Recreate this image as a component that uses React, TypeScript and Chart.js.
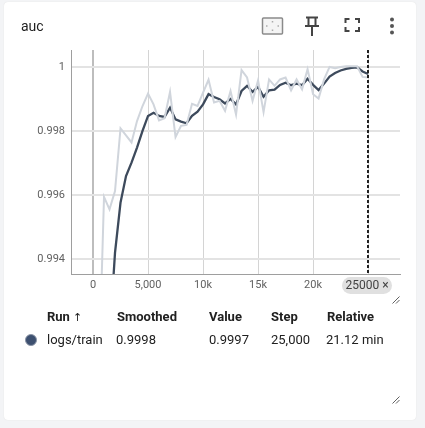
import React, { useEffect, useRef } from "react";
import { Chart, registerables } from "chart.js";

Chart.register(...registerables);

const chartTitle = "auc";
const steps = [500, 1000, 1500, 2000, 2500, 3000, 3500, 4000, 4500, 5000, 5500, 6000, 6500, 7000, 7500, 8000, 8500, 9000, 9500, 10000, 10500, 11000, 11500, 12000, 12500, 13000, 13500, 14000, 14500, 15000, 15500, 16000, 16500, 17000, 17500, 18000, 18500, 19000, 19500, 20000, 20500, 21000, 21500, 22000, 22500, 23000, 23500, 24000, 24500, 25000];
const rawValues = [0.99, 0.99594, 0.99555, 0.99612, 0.99808, 0.99786, 0.99764, 0.99831, 0.99878, 0.99917, 0.99883, 0.99833, 0.9984, 0.99922, 0.99781, 0.99816, 0.99819, 0.99885, 0.99878, 0.9992, 0.9996, 0.99889, 0.99894, 0.99863, 0.99925, 0.99851, 0.9999, 0.99967, 0.99894, 0.99958, 0.99859, 0.99961, 0.99941, 0.99961, 0.99967, 0.99927, 0.99961, 0.9993, 0.99993, 0.99915, 0.99901, 0.99961, 1.0, 0.99996, 1.0, 1.00002, 1.00002, 1.00002, 0.99969, 0.99967];
const smoothedValues = [0.985, 0.988, 0.9915, 0.9942, 0.99576, 0.99659, 0.99701, 0.99748, 0.998, 0.99847, 0.99857, 0.99847, 0.99844, 0.99873, 0.99836, 0.99829, 0.99824, 0.99847, 0.9986, 0.99883, 0.99915, 0.99906, 0.99899, 0.99886, 0.999, 0.99883, 0.99925, 0.99941, 0.99922, 0.99938, 0.99907, 0.99927, 0.99929, 0.99944, 0.99951, 0.99943, 0.99948, 0.99943, 0.99963, 0.99944, 0.99928, 0.99948, 0.9997, 0.99981, 0.99989, 0.99994, 0.99997, 0.99999, 0.99986, 0.99978];
const xTicks = [0, 5000, 10000, 15000, 20000, 25000];
const xTickLabels = ["0", "5,000", "10k", "15k", "20k", ""];
const yTicks = [0.994, 0.996, 0.998, 1];
const yTickLabels = ["0.994", "0.996", "0.998", "1"];
const selectedStep = 25000;
const selectedLabel = "25000 ×";
const tableHeaders = ["Run", "Smoothed", "Value", "Step", "Relative"];
const tableRow = ["logs/train", "0.9998", "0.9997", "25,000", "21.12 min"];
const headerLefts = [47, 117, 209, 271, 327];
const rowLefts = [47, 116, 209, 271, 326];

const FONT = "Roboto, sans-serif";

const stepMarker = {
  id: "stepMarker",
  afterDraw(chart: any) {
    const { ctx, scales, chartArea } = chart;
    const xPx = Math.round(scales.x.getPixelForValue(selectedStep));
    ctx.save();
    ctx.strokeStyle = "#212121";
    ctx.lineWidth = 2;
    ctx.setLineDash([3, 2]);
    ctx.beginPath();
    ctx.moveTo(xPx, chartArea.top);
    ctx.lineTo(xPx, chartArea.bottom);
    ctx.stroke();
    ctx.setLineDash([]);
    ctx.font = "12px " + FONT;
    const w = 50;
    const h = 17;
    const top = chartArea.bottom + 3;
    ctx.fillStyle = "#e0e0e0";
    ctx.beginPath();
    ctx.roundRect(xPx - 26, top, w, h, 8.5);
    ctx.fill();
    ctx.fillStyle = "#424242";
    ctx.textAlign = "center";
    ctx.textBaseline = "middle";
    ctx.fillText(selectedLabel, xPx - 1, top + h / 2 + 0.5);
    ctx.restore();
  },
};

function Handle({ x, y }: { x: number; y: number }) {
  return (
    <svg style={{ position: "absolute", left: x, top: y }} width={8} height={8}>
      <path d="M0.5 7.5 L7.5 0.5 M4 7.5 L7.5 4" stroke="#616161" strokeWidth={1} fill="none" />
    </svg>
  );
}

export default function App() {
  const ref = useRef<HTMLCanvasElement>(null);

  useEffect(() => {
    document.body.style.margin = "0";
    const chart = new Chart(ref.current as HTMLCanvasElement, {
      type: "line",
      data: {
        datasets: [
          {
            label: "raw",
            data: steps.map((s, i) => ({ x: s, y: rawValues[i] })),
            borderColor: "#d0d5dc",
            borderWidth: 2,
            pointRadius: 0,
            tension: 0,
          },
          {
            label: "logs/train",
            data: steps.map((s, i) => ({ x: s, y: smoothedValues[i] })),
            borderColor: "#3d4a5c",
            borderWidth: 2.3,
            pointRadius: 0,
            tension: 0,
          },
        ],
      },
      options: {
        animation: false,
        responsive: false,
        layout: { padding: { left: 0, top: 50, right: 25, bottom: 124 } },
        plugins: { legend: { display: false }, tooltip: { enabled: false } },
        scales: {
          x: {
            type: "linear",
            min: -2000,
            max: 27900,
            afterBuildTicks(axis: any) {
              axis.ticks = xTicks.map((value) => ({ value }));
            },
            afterFit(axis: any) {
              axis.height = 30;
            },
            grid: {
              color: (c: any) => (c.tick && c.tick.value === 0 ? "#bdbdbd" : "#d4d4d4"),
              lineWidth: (c: any) => (c.tick && c.tick.value === 0 ? 2 : 1),
              drawTicks: false,
            },
            border: { color: "#9e9e9e", width: 1 },
            ticks: {
              autoSkip: false,
              maxRotation: 0,
              padding: 5,
              color: "#616161",
              font: { family: FONT, size: 11 },
              callback: (v: any) => xTickLabels[xTicks.indexOf(Number(v))] ?? "",
            },
          },
          y: {
            type: "linear",
            min: 0.99353,
            max: 1.00053,
            afterBuildTicks(axis: any) {
              axis.ticks = yTicks.map((value) => ({ value }));
            },
            afterFit(axis: any) {
              axis.width = 71;
            },
            grid: { color: "#e3e3e3", lineWidth: 2, drawTicks: false },
            border: { color: "#9e9e9e", width: 1 },
            ticks: {
              autoSkip: false,
              padding: 6,
              color: "#616161",
              font: { family: FONT, size: 11 },
              callback: (v: any) => yTickLabels[yTicks.indexOf(Number(v))] ?? "",
            },
          },
        },
      },
      plugins: [stepMarker],
    } as any);
    return () => chart.destroy();
  }, []);

  const textBase: React.CSSProperties = {
    position: "absolute",
    fontFamily: FONT,
    fontSize: 13,
    lineHeight: "16px",
    color: "#212121",
    whiteSpace: "nowrap",
  };

  return (
    <div style={{ position: "absolute", left: 0, top: 0, width: 425, height: 428, background: "#f3f4f6", overflow: "hidden" }}>
      <div style={{ position: "absolute", left: 4, top: 2, width: 412, height: 418, background: "#fff", borderRadius: 4, boxShadow: "0 0 1px #d8d8d8" }} />
      <canvas ref={ref} width={425} height={428} style={{ position: "absolute", left: 0, top: 0, width: 425, height: 428 }} />
      <div style={{ ...textBase, left: 21, top: 18, fontSize: 14 }}>{chartTitle}</div>

      <svg style={{ position: "absolute", left: 255, top: 10 }} width={150} height={30}>
        <rect x={7.5} y={8} width={20} height={16} rx={1} fill="#f4f4f4" stroke="#8a8a8a" strokeWidth={1.5} />
        <path d="M17.5 11 v1.5 M17.5 19.5 v1.5 M11 16 h1.5 M22.5 16 h1.5" stroke="#aaa" strokeWidth={1.5} />
        <path d="M51 7.5 h12 M53.5 7.5 v8 M60.5 7.5 v8 M50 16 h14 M57 16 v10" stroke="#444" strokeWidth={2} fill="none" />
        <path d="M90.5 13 v-4 h4 M100 9 h4 v4 M90.5 17 v4 h4 M100 21 h4 v-4" stroke="#444" strokeWidth={2} fill="none" />
        <circle cx={137} cy={9.5} r={2} fill="#555" />
        <circle cx={137} cy={16} r={2} fill="#555" />
        <circle cx={137} cy={22.5} r={2} fill="#555" />
      </svg>

      <Handle x={392} y={296} />
      <Handle x={392} y={396} />

      {tableHeaders.map((h, i) => (
        <div key={h} style={{ ...textBase, left: headerLefts[i], top: 309, fontWeight: 700 }}>
          {h}
          {i === 0 ? <span style={{ fontFamily: "'DejaVu Sans', sans-serif", fontWeight: 400, fontSize: 11, marginLeft: 3 }}>↑</span> : null}
        </div>
      ))}
      {tableRow.map((c, i) => (
        <div key={c} style={{ ...textBase, left: rowLefts[i], top: 332 }}>{c}</div>
      ))}
      <div style={{ position: "absolute", left: 25, top: 334, width: 12, height: 12, borderRadius: "50%", background: "#3d5070", border: "0.5px solid #8a94a6", boxSizing: "border-box" }} />
    </div>
  );
}
